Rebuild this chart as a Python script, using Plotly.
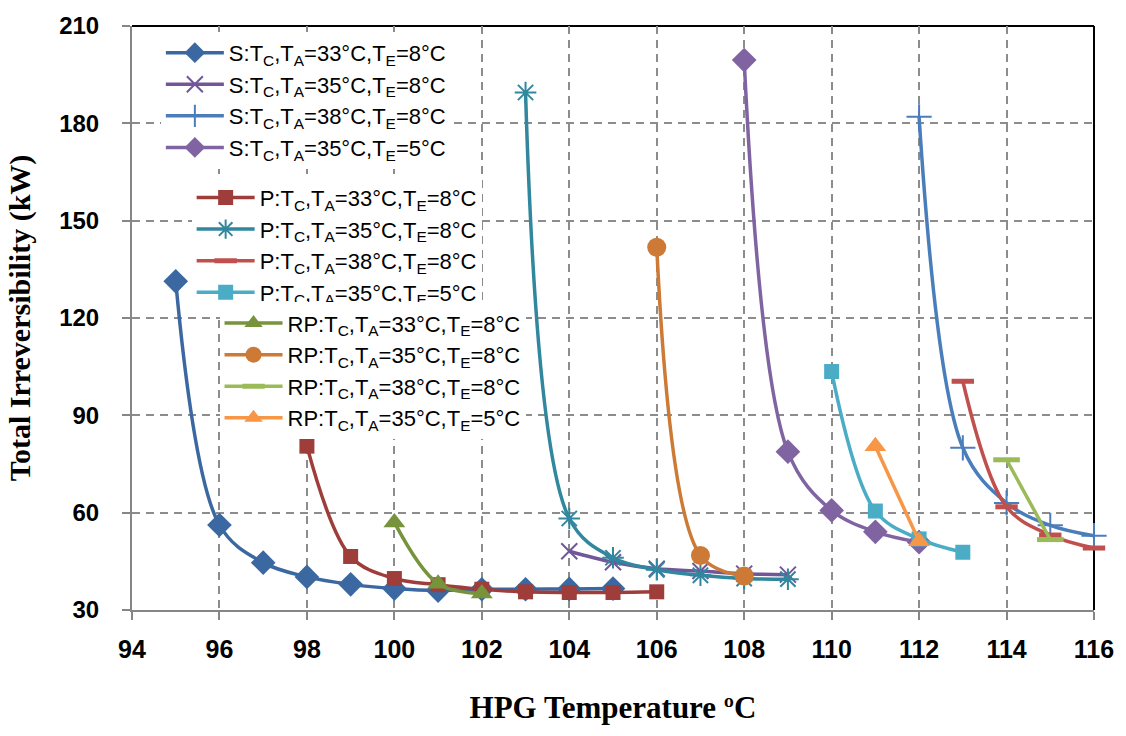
import plotly.graph_objects as go

# HPG temperature (°C) and total irreversibility (kW) for each configuration
s_33_8_x = [95, 96, 97, 98, 99, 100, 101, 102, 103, 104, 105]
s_33_8_y = [131.3, 56.2, 44.6, 40.2, 37.9, 36.6, 36.0, 36.4, 36.4, 36.5, 36.6]
s_35_8_x = [104, 105, 106, 107, 108, 109]
s_35_8_y = [48.1, 44.7, 42.7, 42.0, 41.2, 40.9]
s_38_8_x = [112, 113, 114, 115, 116]
s_38_8_y = [182.0, 80.0, 63.0, 56.1, 52.9]
s_35_5_x = [108, 109, 110, 111, 112]
s_35_5_y = [199.5, 78.8, 60.7, 54.1, 50.9]

p_33_8_x = [98, 99, 100, 101, 102, 103, 104, 105, 106]
p_33_8_y = [80.5, 46.5, 39.7, 37.8, 36.4, 35.6, 35.4, 35.4, 35.6]
p_35_8_x = [103, 104, 105, 106, 107, 108, 109]
p_35_8_y = [189.5, 58.2, 46.1, 42.4, 40.7, 39.7, 39.5]
p_38_8_x = [113, 114, 115, 116]
p_38_8_y = [100.5, 61.8, 53.1, 49.1]
p_35_5_x = [110, 111, 112, 113]
p_35_5_y = [103.5, 60.5, 51.9, 47.8]

rp_33_8_x = [100, 101, 102]
rp_33_8_y = [57.0, 38.1, 35.1]
rp_35_8_x = [106, 107, 108]
rp_35_8_y = [141.8, 46.8, 40.5]
rp_38_8_x = [114, 115]
rp_38_8_y = [76.3, 51.7]
rp_35_5_x = [111, 112]
rp_35_5_y = [80.5, 51.2]

x_ticks = [94, 96, 98, 100, 102, 104, 106, 108, 110, 112, 114, 116]
y_ticks = [30, 60, 90, 120, 150, 180, 210]


def label(prefix, ta, te):
    return f"{prefix}:T<sub>C</sub>,T<sub>A</sub>={ta}°C,T<sub>E</sub>={te}°C"


series = [
    # (x, y, name, colour, symbol, marker size, line-symbol, legend)
    (s_33_8_x, s_33_8_y, label("S", 33, 8), "#3B68A1", "diamond", 19, False, "legend"),
    (s_35_8_x, s_35_8_y, label("S", 35, 8), "#71579A", "x-thin", 16, True, "legend"),
    (s_38_8_x, s_38_8_y, label("S", 38, 8), "#4A7EBB", "cross-thin", 18, True, "legend"),
    (s_35_5_x, s_35_5_y, label("S", 35, 5), "#8064A2", "diamond", 19, False, "legend"),
    (p_33_8_x, p_33_8_y, label("P", 33, 8), "#9E3D3A", "square", 15, False, "legend2"),
    (p_35_8_x, p_35_8_y, label("P", 35, 8), "#31879E", "asterisk", 18, True, "legend2"),
    (p_38_8_x, p_38_8_y, label("P", 38, 8), "#C0504D", "line-ew", 16, True, "legend2"),
    (p_35_5_x, p_35_5_y, label("P", 35, 5), "#4BACC6", "square", 15, False, "legend2"),
    (rp_33_8_x, rp_33_8_y, label("RP", 33, 8), "#77933C", "triangle-up", 19, False, "legend3"),
    (rp_35_8_x, rp_35_8_y, label("RP", 35, 8), "#CC7A35", "circle", 19, False, "legend3"),
    (rp_38_8_x, rp_38_8_y, label("RP", 38, 8), "#9BBB59", "line-ew", 19, True, "legend3"),
    (rp_35_5_x, rp_35_5_y, label("RP", 35, 5), "#F79646", "triangle-up", 19, False, "legend3"),
]

fig = go.Figure()
for x, y, name, colour, symbol, size, is_line_symbol, leg in series:
    marker = dict(symbol=symbol, size=size, color=colour)
    if is_line_symbol:
        marker["line"] = dict(color=colour, width=5 if symbol == "line-ew" else 2)
    else:
        marker["line"] = dict(width=0)
    fig.add_trace(go.Scatter(
        x=x, y=y, name=name, mode="lines+markers",
        line=dict(color=colour, width=3.5, shape="spline", smoothing=1),
        marker=marker, legend=leg, cliponaxis=False,
    ))

legend_font = dict(family="Liberation Sans, Arial", size=22, color="#000000")
legend_common = dict(bgcolor="white", borderwidth=0, font=legend_font, itemwidth=58,
                     xanchor="left", yanchor="top", tracegroupgap=0)

fig.update_layout(
    width=1126, height=736,
    margin=dict(l=132, r=29, t=20, b=126),
    paper_bgcolor="white", plot_bgcolor="white",
    showlegend=True,
    legend=dict(x=0.03, y=0.99, **legend_common),
    legend2=dict(x=0.062, y=0.742, **legend_common),
    legend3=dict(x=0.091, y=0.527, **legend_common),
    xaxis=dict(
        range=[94, 116], tickvals=x_ticks, ticktext=[str(v) for v in x_ticks],
        showline=True, linecolor="#868686", linewidth=2,
        ticks="outside", ticklen=8, tickwidth=2, tickcolor="#868686",
        showgrid=True, gridcolor="#8C8C8C", gridwidth=2, griddash="8px,6px",
        zeroline=False,
        tickfont=dict(family="Liberation Sans, Arial", size=25, color="#000000", weight="bold"),
        ticklabelstandoff=8,
        title=dict(text="HPG Temperature ºC", standoff=34,
                   font=dict(family="Liberation Serif, Times New Roman", size=31, color="#000000", weight="bold")),
    ),
    yaxis=dict(
        range=[30, 210], tickvals=y_ticks, ticktext=[str(v) for v in y_ticks],
        showline=True, linecolor="#868686", linewidth=2,
        ticks="outside", ticklen=8, tickwidth=2, tickcolor="#868686",
        showgrid=True, gridcolor="#8C8C8C", gridwidth=2, griddash="8px,6px",
        zeroline=False,
        tickfont=dict(family="Liberation Sans, Arial", size=24, color="#000000", weight="bold"),
        ticklabelstandoff=18,
        title=dict(text="Total Irreversibility (kW)", standoff=20,
                   font=dict(family="Liberation Serif, Times New Roman", size=30, color="#000000", weight="bold")),
    ),
    shapes=[
        dict(type="line", xref="paper", yref="paper", x0=0, x1=1, y0=1, y1=1,
             line=dict(color="#000000", width=2), layer="below"),
        dict(type="line", xref="paper", yref="paper", x0=1, x1=1, y0=0, y1=1,
             line=dict(color="#000000", width=2), layer="below"),
    ],
)

fig.write_html("out.html")
